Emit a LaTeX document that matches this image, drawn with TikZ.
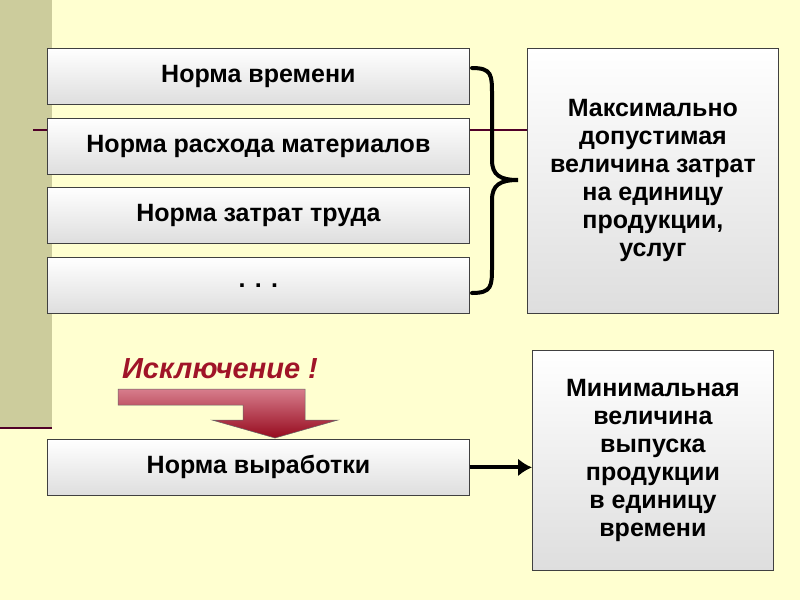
\documentclass[tikz,border=0pt]{standalone}
\usepackage{fontspec}
\setmainfont{Liberation Sans}
\usetikzlibrary{arrows.meta}
\begin{document}
\begin{tikzpicture}[x=1pt,y=-1pt,
  box/.style={draw=black!75,line width=0.8pt,top color=white,bottom color=black!13,minimum height=56pt,inner sep=0pt,align=center,font=\fontsize{25}{29}\selectfont\bfseries,text=black},
  lbox/.style={box,minimum width=422pt,anchor=north west}]
\useasboundingbox (0,0) rectangle (800,600);
\fill[fill={rgb,255:red,255;green,255;blue,208}] (0,0) rectangle (800,600);
\fill[fill={rgb,255:red,204;green,204;blue,156}] (0,0) rectangle (52,428);
\draw[line width=2pt,draw={rgb,255:red,80;green,0;blue,40}] (0,428) -- (52,428);
\draw[line width=1.3pt,draw={rgb,255:red,80;green,0;blue,40}] (33,130) -- (530,130);
\node[lbox] (a) at (47,48) {Норма времени};
\node[lbox] (b) at (47,118) {Норма расхода материалов};
\node[lbox] (c) at (47,187) {Норма затрат труда};
\node[lbox] (d) at (47,257) {. . .};
\node[box,anchor=north west,minimum width=251pt,minimum height=265pt,font=\fontsize{25}{28}\selectfont\bfseries] (r) at (527,48) {Максимально\\допустимая\\величина затрат\\на единицу\\продукции,\\услуг};
\node[lbox] (e) at (47,439) {Норма выработки};
\node[box,anchor=north west,minimum width=241pt,minimum height=220pt,font=\fontsize{25}{28}\selectfont\bfseries] (s) at (532,350) {Минимальная\\величина\\выпуска\\продукции\\в единицу\\времени};
\draw[line width=4pt,line cap=round] (472,68) .. controls (492,68) and (492,75) .. (492,95) -- (492,160) .. controls (492,175) and (500,180) .. (518,180)
  .. controls (500,180) and (492,185) .. (492,200) -- (492,266) .. controls (492,286) and (492,293) .. (472,293);
\node[font=\fontsize{29}{33}\selectfont\bfseries\itshape,text={rgb,255:red,160;green,20;blue,40}] (x) at (220,369) {Исключение !};
\shade[top color={rgb,255:red,215;green,125;blue,140},bottom color={rgb,255:red,150;green,10;blue,30},draw=black!60,line width=0.5pt]
  (118,389) -- (305,389) -- (305,420) -- (338,420) -- (275,438) -- (212,420) -- (243,420) -- (243,405) -- (118,405) -- cycle;
\draw[line width=4pt,-{Latex[length=14pt,width=18pt]}] (e.east) -- (s.west|-e.east);
\end{tikzpicture}
\end{document}
